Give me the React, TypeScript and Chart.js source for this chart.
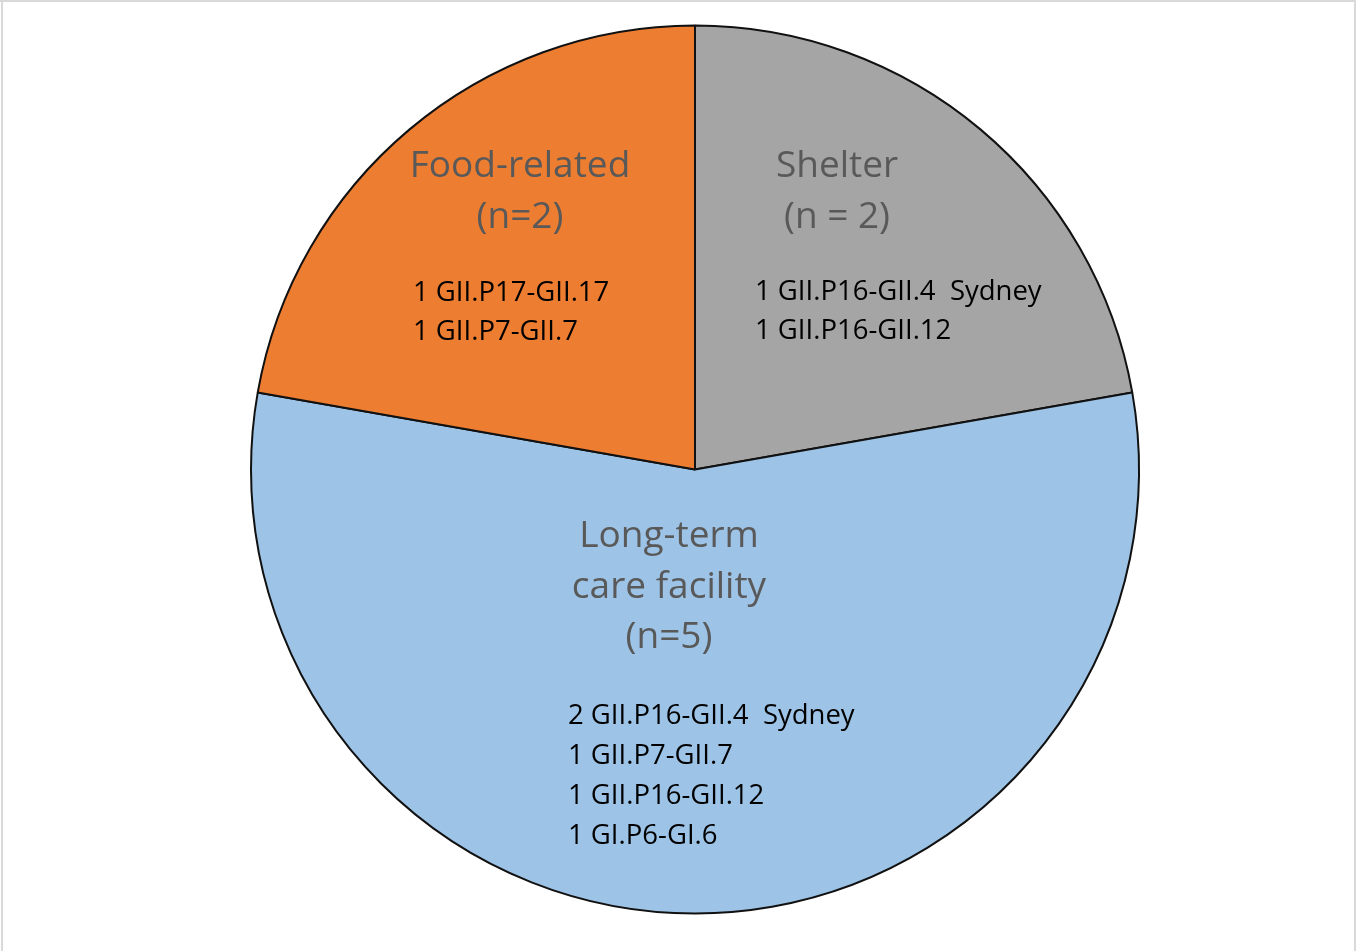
import React, { useEffect, useRef } from "react";
import { Chart, registerables } from "chart.js";

Chart.register(...registerables);

const categories = ["Shelter", "Long-term care facility", "Food-related"];
const counts = [2, 5, 2];
const titleLines = [
  ["Shelter", "(n = 2)"],
  ["Long-term", "care facility", "(n=5)"],
  ["Food-related", "(n=2)"],
];
const detailLines = [
  ["1 GII.P16-GII.4  Sydney", "1 GII.P16-GII.12"],
  ["2 GII.P16-GII.4  Sydney", "1 GII.P7-GII.7", "1 GII.P16-GII.12", "1 GI.P6-GI.6"],
  ["1 GII.P17-GII.17", "1 GII.P7-GII.7"],
];
const sliceColors = ["#A5A5A5", "#9DC3E6", "#ED7D31"];

// label layout: offsets relative to pie centre (pixels)
const LABEL_LAYOUT = [
  { titleX: 142, titleY: -303, titleGap: 51, detailX: 60, detailY: -177, detailGap: 39 },
  { titleX: -26, titleY: 67, titleGap: 50.5, detailX: -127, detailY: 247, detailGap: 40 },
  { titleX: -175, titleY: -303, titleGap: 51, detailX: -282, detailY: -176, detailGap: 39 },
];

const FONT = "'Open Sans', 'Liberation Sans', sans-serif";

const labelPlugin = {
  id: "sliceLabels",
  beforeDraw(chart: any) {
    const ctx = chart.ctx;
    ctx.save();
    ctx.fillStyle = "#ffffff";
    ctx.fillRect(0, 0, chart.width, chart.height);
    ctx.fillStyle = "#D9D9D9";
    ctx.fillRect(0, 0, chart.width, 2);
    ctx.fillRect(1, 0, 2, chart.height);
    ctx.fillRect(chart.width - 2, 0, 2, chart.height);
    ctx.restore();
  },
  afterDatasetsDraw(chart: any) {
    const ctx = chart.ctx;
    const meta = chart.getDatasetMeta(0);
    ctx.save();
    ctx.textBaseline = "middle";
    meta.data.forEach((arc: any, i: number) => {
      const L = LABEL_LAYOUT[i];
      const cx = arc.x;
      const cy = arc.y;
      ctx.font = `37px ${FONT}`;
      ctx.fillStyle = "#595959";
      ctx.textAlign = "center";
      titleLines[i].forEach((t, k) => {
        ctx.fillText(t, cx + L.titleX, cy + L.titleY + k * L.titleGap);
      });
      ctx.font = `27.5px ${FONT}`;
      ctx.fillStyle = "#000000";
      ctx.textAlign = "left";
      detailLines[i].forEach((t, k) => {
        ctx.fillText(t, cx + L.detailX, cy + L.detailY + k * L.detailGap);
      });
    });
    ctx.restore();
  },
};

export default function App() {
  const ref = useRef<HTMLCanvasElement | null>(null);
  useEffect(() => {
    document.body.style.margin = "0";
    if (!ref.current) return;
    const chart = new Chart(ref.current, {
      type: "pie",
      data: {
        labels: categories,
        datasets: [
          {
            data: counts,
            backgroundColor: sliceColors,
            borderColor: "#111111",
            borderWidth: 2,
          },
        ],
      },
      options: {
        responsive: false,
        animation: false,
        radius: 444,
        layout: { padding: { left: 34, right: 0, top: 0, bottom: 12 } },
        plugins: {
          legend: { display: false },
          tooltip: { enabled: false },
        },
      },
      plugins: [labelPlugin],
    });
    return () => chart.destroy();
  }, []);
  return (
    <div style={{ position: "absolute", left: 0, top: 0, width: 1356, height: 951 }}>
      <canvas ref={ref} width={1356} height={951} />
    </div>
  );
}
